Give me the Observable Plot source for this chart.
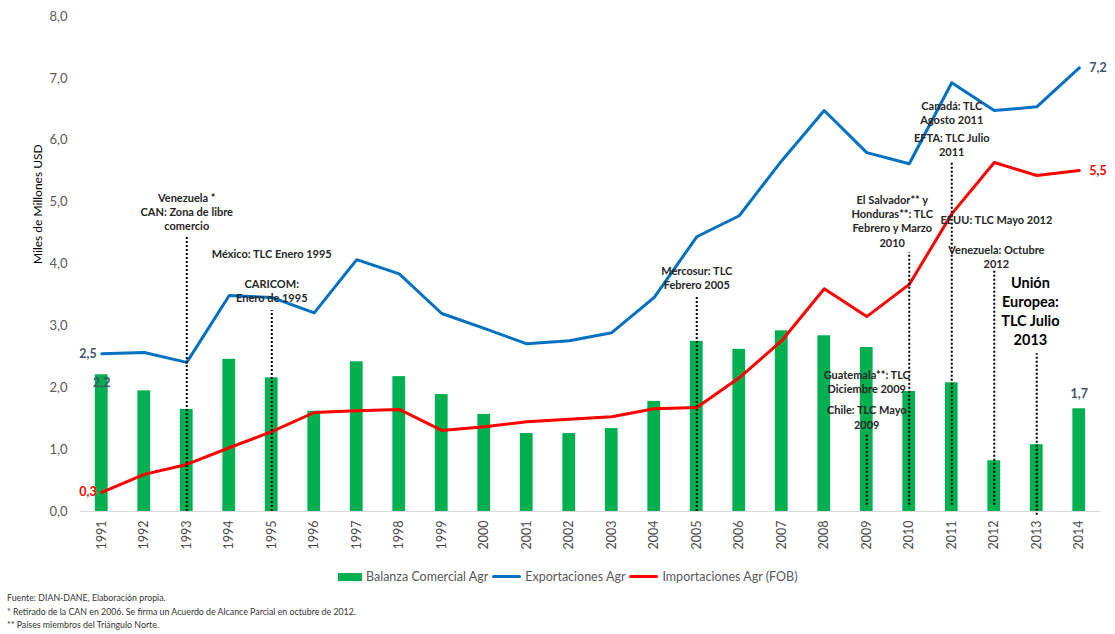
<!DOCTYPE html>
<html><head><meta charset="utf-8">
<script src="https://cdn.jsdelivr.net/npm/d3@7"></script>
<script src="https://cdn.jsdelivr.net/npm/@observablehq/plot@0.6"></script>
<style>
body{margin:0;background:#fff;}
#wrap{position:relative;width:1115px;height:634px;overflow:hidden;font-family:Lato,"Open Sans",sans-serif;}
#chart{position:absolute;left:0;top:0;}
#legend{position:absolute;left:338px;top:569px;display:flex;align-items:center;font-size:12.5px;color:#595959;white-space:nowrap;}
#legend .it{display:flex;align-items:center;margin-right:4px;}
#legend .sw{display:inline-block;margin-right:4px;}
#notes{position:absolute;left:7px;top:591px;font-family:Lato,sans-serif;font-size:8.8px;color:#333;line-height:13.5px;}
</style></head><body>
<div id="wrap"><div id="chart"></div><div id="legend"></div><div id="notes"></div></div>
<script>
const years = [1991,1992,1993,1994,1995,1996,1997,1998,1999,2000,2001,2002,2003,2004,2005,2006,2007,2008,2009,2010,2011,2012,2013,2014];
const balanza = [2.21,1.95,1.65,2.46,2.16,1.62,2.42,2.18,1.89,1.57,1.26,1.26,1.34,1.78,2.75,2.62,2.92,2.84,2.65,1.94,2.08,0.82,1.08,1.66];
const exportaciones = [2.55,2.57,2.41,3.49,3.46,3.21,4.07,3.84,3.20,2.96,2.71,2.76,2.89,3.46,4.44,4.78,5.67,6.48,5.80,5.62,6.93,6.48,6.54,7.17];
const importaciones = [0.31,0.60,0.76,1.03,1.29,1.60,1.63,1.65,1.31,1.37,1.45,1.49,1.53,1.66,1.68,2.16,2.76,3.60,3.15,3.67,4.81,5.64,5.43,5.51];
const yTicks = [0,1,2,3,4,5,6,7,8];

const seriesNames = ["Balanza Comercial Agr","Exportaciones Agr","Importaciones Agr (FOB)"];
const seriesColors = ["#00B050","#0070C0","#FF0000"];

const ruleYears = [1993,1995,2005,2009,2010,2011,2012,2013];
const ruleTop = [4.43,3.25,3.49,1.26,4.18,5.64,3.89,2.55];
const ruleBottom = [0,0,0,0.1,0.1,0.1,0.1,-0.06];

const annText = [
  "Venezuela *\nCAN: Zona de libre\ncomercio",
  "México: TLC Enero 1995",
  "CARICOM:\nEnero de 1995",
  "Mercosur: TLC\nFebrero 2005",
  "Canadá: TLC\nAgosto 2011",
  "EFTA: TLC Julio\n2011",
  "El Salvador** y\nHonduras**: TLC\nFebrero y Marzo\n2010",
  "EEUU: TLC Mayo 2012",
  "Venezuela: Octubre\n2012",
  "Guatemala**: TLC\nDiciembre 2009",
  "Chile: TLC Mayo\n2009"
];
const annX = [1993,1995,1995,2005,2011,2011,2009.6,2012.05,2012.05,2009,2009];
const annY = [4.85,4.17,3.57,3.78,6.45,5.93,4.70,4.72,4.12,2.10,1.53];

const bigText = ["Unión\nEuropea:\nTLC Julio\n2013"];
const bigX = [2012.85];
const bigY = [3.25];

const notes = [
  "Fuente: DIAN-DANE, Elaboración propia.",
  "* Retirado de la CAN en 2006.  Se firma un Acuerdo de Alcance Parcial en octubre de 2012.",
  "** Países miembros del Triángulo Norte."
];

const data = years.map((year, i) => ({year, balanza: balanza[i], exp: exportaciones[i], imp: importaciones[i]}));
const rules = ruleYears.map((year, i) => ({year, top: ruleTop[i], bottom: ruleBottom[i]}));
const anns = annText.map((t, i) => ({t, x: annX[i], y: annY[i]}));
const bigs = bigText.map((t, i) => ({t, x: bigX[i], y: bigY[i]}));
const first = data[0], last = data[data.length - 1];
const fmt = v => v.toFixed(1).replace(".", ",");
const annFont = "Lato, sans-serif";

const chart = Plot.plot({
  width: 1115,
  height: 560,
  marginLeft: 80,
  marginRight: 15,
  marginTop: 16,
  marginBottom: 49,
  style: {fontFamily: "Lato, 'Open Sans', sans-serif", fontSize: "13px", background: "#fff"},
  x: {type: "linear", domain: [1990.5, 2014.5]},
  y: {domain: [0, 8]},
  marks: [
    Plot.axisY({ticks: yTicks, tickFormat: fmt, tickSize: 0, tickPadding: 13, color: "#595959", label: null, fontSize: 13}),
    Plot.axisX({ticks: years, tickFormat: d => String(d), tickRotate: -90, tickSize: 0, tickPadding: 9, color: "#4a4a4a", label: null, fontSize: 12.5}),
    Plot.text(["Miles de Millones USD"], {text: d => d, frameAnchor: "left", rotate: -90, dx: -42, fill: "#000", fontSize: 12}),
    Plot.ruleY([0], {stroke: "#d9d9d9", strokeWidth: 1}),
    Plot.rectY(data, {x1: d => d.year - 0.15, x2: d => d.year + 0.15, y: "balanza", fill: seriesColors[0]}),
    Plot.lineY(data, {x: "year", y: "exp", stroke: seriesColors[1], strokeWidth: 3}),
    Plot.lineY(data, {x: "year", y: "imp", stroke: seriesColors[2], strokeWidth: 3}),
    Plot.ruleX(rules, {x: "year", y1: "bottom", y2: "top", stroke: "#000", strokeWidth: 2, strokeDasharray: "2,2"}),
    Plot.text(anns, {x: "x", y: "y", text: "t", lineAnchor: "middle", lineHeight: 1.3, fontFamily: annFont, fontWeight: "bold", fontSize: 11, fill: "#262626"}),
    Plot.text(bigs, {x: "x", y: "y", text: "t", lineAnchor: "middle", lineHeight: 1.3, fontFamily: annFont, fontWeight: "bold", fontSize: 14.5, fill: "#000"}),
    // data labels
    Plot.text([first], {x: "year", y: "exp", text: d => fmt(d.exp), textAnchor: "end", dx: -5, fontWeight: "bold", fontSize: 12.5, fill: "#44546A"}),
    Plot.text([first], {x: "year", y: "balanza", text: d => fmt(d.balanza), dy: 8, fontWeight: "bold", fontSize: 12.5, fill: "#44546A"}),
    Plot.text([first], {x: "year", y: "imp", text: d => fmt(d.imp), textAnchor: "end", dx: -5, fontWeight: "bold", fontSize: 12.5, fill: "#FF0000"}),
    Plot.text([last], {x: "year", y: "exp", text: d => fmt(d.exp), textAnchor: "start", dx: 10, fontWeight: "bold", fontSize: 12.5, fill: "#44546A"}),
    Plot.text([last], {x: "year", y: "imp", text: d => fmt(d.imp), textAnchor: "start", dx: 10, fontWeight: "bold", fontSize: 12.5, fill: "#FF0000"}),
    Plot.text([last], {x: "year", y: "balanza", text: d => fmt(d.balanza), dy: -15, fontWeight: "bold", fontSize: 12.5, fill: "#44546A"})
  ]
});
document.getElementById("chart").append(chart);

const leg = d3.select("#legend");
seriesNames.forEach((name, i) => {
  const it = leg.append("span").attr("class", "it");
  if (i === 0) it.append("span").attr("class", "sw").style("width", "24px").style("height", "8px").style("background", seriesColors[i]);
  else it.append("span").attr("class", "sw").style("width", "29px").style("height", "3px").style("border-radius", "2px").style("background", seriesColors[i]);
  it.append("span").text(name);
});
const nt = d3.select("#notes");
notes.forEach(n => nt.append("div").text(n));
</script>
</body></html>
